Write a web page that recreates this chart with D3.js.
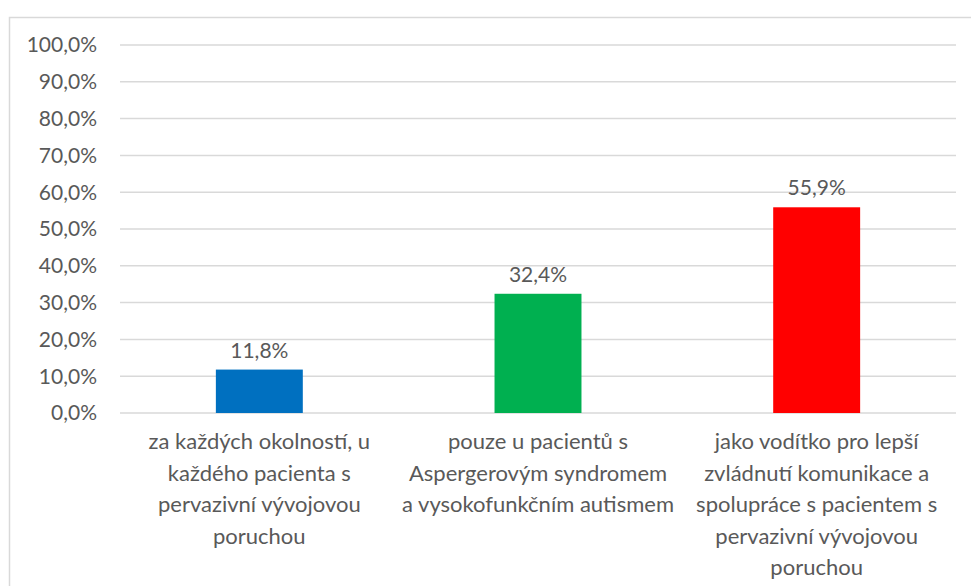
<!DOCTYPE html>
<html>
<head>
<meta charset="utf-8">
<script src="https://cdn.jsdelivr.net/npm/d3@7.9.0/dist/d3.min.js"></script>
<style>
  body { margin: 0; background: #fff; }
  svg text { font-family: Lato, "Open Sans", sans-serif; fill: #595959; }
</style>
</head>
<body>
<svg id="chart" width="971" height="586"></svg>
<script>
// data
const categories = [
  ['za každých okolností, u', 'každého pacienta s', 'pervazivní vývojovou', 'poruchou'],
  ['pouze u pacientů s', 'Aspergerovým syndromem', 'a vysokofunkčním autismem'],
  ['jako vodítko pro lepší', 'zvládnutí komunikace a', 'spolupráce s pacientem s', 'pervazivní vývojovou', 'poruchou']
];
const values = [11.8, 32.4, 55.9];
const colors = ['#0070C0', '#00B050', '#FF0000'];
const ticks = [0, 10, 20, 30, 40, 50, 60, 70, 80, 90, 100];

const svg = d3.select('#chart');
const fmt = v => d3.format('.1f')(v).replace('.', ',') + '%';

// chart border (runs off the right/bottom edge like the source)
svg.append('rect')
  .attr('x', 9.5).attr('y', 17.5)
  .attr('width', 1000).attr('height', 1000)
  .attr('fill', 'none').attr('stroke', '#d9d9d9').attr('stroke-width', 1.5);

const margin = { left: 120, right: 15, top: 45, bottom: 173 };
const W = 971, H = 586;

let x = d3.scaleBand()
  .domain(d3.range(values.length))
  .range([margin.left, W - margin.right])
  .paddingInner(0.688)
  .paddingOuter(0.344);

let y = d3.scaleLinear().domain([0, 100]).range([H - margin.bottom, margin.top]);

// gridlines
svg.append('g')
  .selectAll('line')
  .data(ticks)
  .join('line')
  .attr('x1', margin.left).attr('x2', W - margin.right)
  .attr('y1', d => y(d)).attr('y2', d => y(d))
  .attr('stroke', '#d9d9d9').attr('stroke-width', 1.5);

// y tick labels
svg.append('g')
  .selectAll('text')
  .data(ticks)
  .join('text')
  .attr('x', 97)
  .attr('y', d => y(d))
  .attr('dy', '0.35em')
  .attr('text-anchor', 'end')
  .attr('font-size', 21)
  .text(fmt);

// bars
svg.append('g')
  .selectAll('rect')
  .data(values)
  .join('rect')
  .attr('x', (d, i) => x(i))
  .attr('width', x.bandwidth())
  .attr('y', d => y(d))
  .attr('height', d => y(0) - y(d))
  .attr('fill', (d, i) => colors[i]);

// value labels
svg.append('g')
  .selectAll('text')
  .data(values)
  .join('text')
  .attr('x', (d, i) => x(i) + x.bandwidth() / 2)
  .attr('y', d => y(d) - 12)
  .attr('text-anchor', 'middle')
  .attr('font-size', 21)
  .text(fmt);

// category labels
categories.forEach((lines, i) => {
  let t = svg.append('text')
    .attr('x', x(i) + x.bandwidth() / 2)
    .attr('y', y(0) + 36)
    .attr('text-anchor', 'middle')
    .attr('font-size', 22);
  lines.forEach((line, j) => {
    t.append('tspan')
      .attr('x', x(i) + x.bandwidth() / 2)
      .attr('dy', j === 0 ? 0 : 31.5)
      .text(line);
  });
});
</script>
</body>
</html>
